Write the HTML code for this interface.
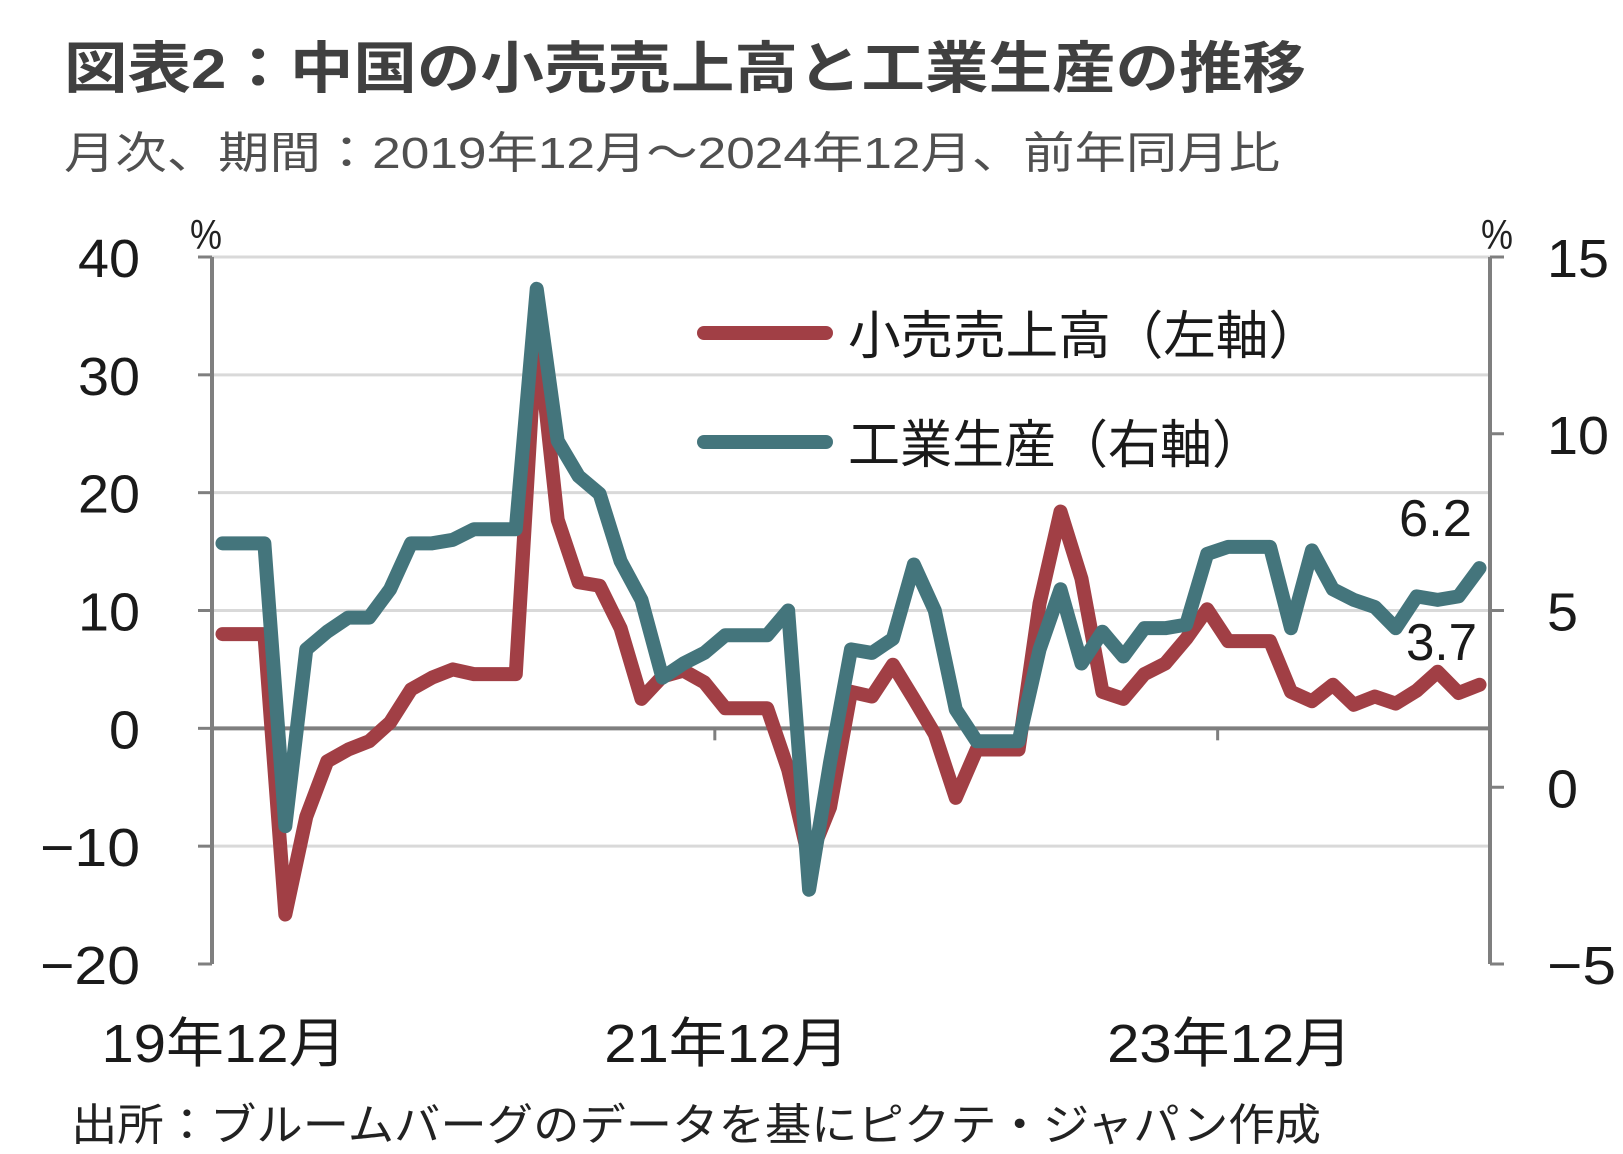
<!DOCTYPE html>
<html><head><meta charset="utf-8"><style>
body{margin:0;background:#fff;}
svg{display:block;font-family:"Liberation Sans","Noto Sans CJK JP",sans-serif;}
</style></head><body>
<svg id="chart" width="1623" height="1154" viewBox="0 0 1623 1154">
<text x="64" y="88" font-size="56" font-weight="bold" fill="#404040" textLength="1242" lengthAdjust="spacingAndGlyphs">図表2：中国の小売売上高と工業生産の推移</text>
<text x="64" y="168" font-size="44" fill="#505050" textLength="1216" lengthAdjust="spacingAndGlyphs">月次、期間：2019年12月～2024年12月、前年同月比</text>
<text x="190" y="249" font-size="42" fill="#222" textLength="32" lengthAdjust="spacingAndGlyphs">%</text>
<text x="1481" y="249" font-size="42" fill="#222" textLength="32" lengthAdjust="spacingAndGlyphs">%</text>
<g id="grid"></g><g id="axes"></g><g id="series"></g>
<g>
<line x1="704" y1="333" x2="826" y2="333" stroke="#a13f45" stroke-width="14" stroke-linecap="round"/>
<text x="848" y="354" font-size="52" fill="#1a1a1a" textLength="473" lengthAdjust="spacingAndGlyphs">小売売上高（左軸）</text>
<line x1="704" y1="442" x2="826" y2="442" stroke="#44757c" stroke-width="14" stroke-linecap="round"/>
<text x="848" y="463" font-size="52" fill="#1a1a1a" textLength="416" lengthAdjust="spacingAndGlyphs">工業生産（右軸）</text>
</g>
<text x="1399" y="536" font-size="52" fill="#1a1a1a" textLength="73" lengthAdjust="spacingAndGlyphs">6.2</text>
<text x="1406" y="660" font-size="52" fill="#1a1a1a" textLength="71" lengthAdjust="spacingAndGlyphs">3.7</text>
<text x="71" y="1140" font-size="44" fill="#222" textLength="1250" lengthAdjust="spacingAndGlyphs">出所：ブルームバーグのデータを基にピクテ・ジャパン作成</text>
</svg>
<script>
const retail=[8.0,8.0,8.0,-15.8,-7.5,-2.8,-1.8,-1.1,0.5,3.3,4.3,5.0,4.6,
4.6,4.6,34.2,17.7,12.4,12.1,8.5,2.5,4.4,4.9,3.9,1.7,
1.7,1.7,-3.5,-11.1,-6.7,3.1,2.7,5.4,2.5,-0.5,-5.9,-1.8,
-1.8,-1.8,10.6,18.4,12.7,3.1,2.5,4.6,5.5,7.6,10.1,7.4,
7.4,7.4,3.1,2.3,3.7,2.0,2.7,2.1,3.2,4.8,3.0,3.7];
const industrial=[6.9,6.9,6.9,-1.1,3.9,4.4,4.8,4.8,5.6,6.9,6.9,7.0,7.3,
7.3,7.3,14.1,9.8,8.8,8.3,6.4,5.3,3.1,3.5,3.8,4.3,
4.3,4.3,5.0,-2.9,0.7,3.9,3.8,4.2,6.3,5.0,2.2,1.3,
1.3,1.3,3.9,5.6,3.5,4.4,3.7,4.5,4.5,4.6,6.6,6.8,
6.8,6.8,4.5,6.7,5.6,5.3,5.1,4.5,5.4,5.3,5.4,6.2];
const leftTicks=[40,30,20,10,0,-10,-20];
const rightTicks=[15,10,5,0,-5];
const xTickIndex=[0,24,48];
const xTickLabels=["19年12月","21年12月","23年12月"];

const NS="http://www.w3.org/2000/svg";
const X0=212,X1=1490,Y0=257,Y1=964;
const n=retail.length, bw=(X1-X0)/n;
const xc=i=>X0+bw*(i+0.5);
const yL=v=>Y1-(v+20)/60*(Y1-Y0);
const yR=v=>Y1-(v+5)/20*(Y1-Y0);
function mk(tag,attrs,parent){const e=document.createElementNS(NS,tag);for(const k in attrs)e.setAttribute(k,attrs[k]);parent.appendChild(e);return e;}
function lbl(v){return v<0?'−'+(-v):String(v);}
function lblW(s){let w=0;for(const c of s)w+=(c==='−'?38:31);return w;}
const grid=document.getElementById('grid'),axes=document.getElementById('axes'),ser=document.getElementById('series');
leftTicks.forEach(v=>{
  const y=yL(v);
  if(v!==0&&v!==-20){const g=mk('line',{x1:X0,x2:X1,y1:y,y2:y,stroke:'#d9d9d9','stroke-width':3},grid);
  
  }
  const t=mk('line',{x1:X0-14,x2:X0,y1:y,y2:y,stroke:'#7f7f7f','stroke-width':3},axes);
  
  
  const s=lbl(v), w=lblW(s);
  const l=mk('text',{x:140-w,y:y+20,'font-size':54,fill:'#1a1a1a',textLength:w,lengthAdjust:'spacingAndGlyphs'},axes);
  l.textContent=s;
  
  
});
rightTicks.forEach(v=>{
  const y=yR(v);
  const t=mk('line',{x1:X1,x2:X1+14,y1:y,y2:y,stroke:'#7f7f7f','stroke-width':3},axes);
  
  
  const s=lbl(v), w=lblW(s);
  const l=mk('text',{x:1547,y:y+20,'font-size':54,fill:'#1a1a1a',textLength:w,lengthAdjust:'spacingAndGlyphs'},axes);
  l.textContent=s;
  
  
});
let a=mk('line',{x1:X0,x2:X0,y1:Y0,y2:Y1,stroke:'#7f7f7f','stroke-width':4},axes);


a=mk('line',{x1:X1,x2:X1,y1:Y0,y2:Y1,stroke:'#7f7f7f','stroke-width':4},axes);


a=mk('line',{x1:X0,x2:X1,y1:yL(0),y2:yL(0),stroke:'#7f7f7f','stroke-width':4},axes);


xTickIndex.forEach((i,k)=>{
  const xx=X0+bw*i;
  if(i){const t=mk('line',{x1:xx,x2:xx,y1:yL(0),y2:yL(0)+12,stroke:'#7f7f7f','stroke-width':3},axes);
  
  }
  const l=mk('text',{x:xc(i)+1-122,y:1062,'font-size':54,fill:'#1a1a1a',textLength:245,lengthAdjust:'spacingAndGlyphs'},axes);
  l.textContent=xTickLabels[k];
  
  
});
const pr=mk('polyline',{points:retail.map((v,i)=>xc(i)+','+yL(v)).join(' '),fill:'none',stroke:'#a13f45','stroke-width':14,'stroke-linejoin':'round','stroke-linecap':'round'},ser);


const pi=mk('polyline',{points:industrial.map((v,i)=>xc(i)+','+yR(v)).join(' '),fill:'none',stroke:'#44757c','stroke-width':14,'stroke-linejoin':'round','stroke-linecap':'round'},ser);


</script>
</body></html>
